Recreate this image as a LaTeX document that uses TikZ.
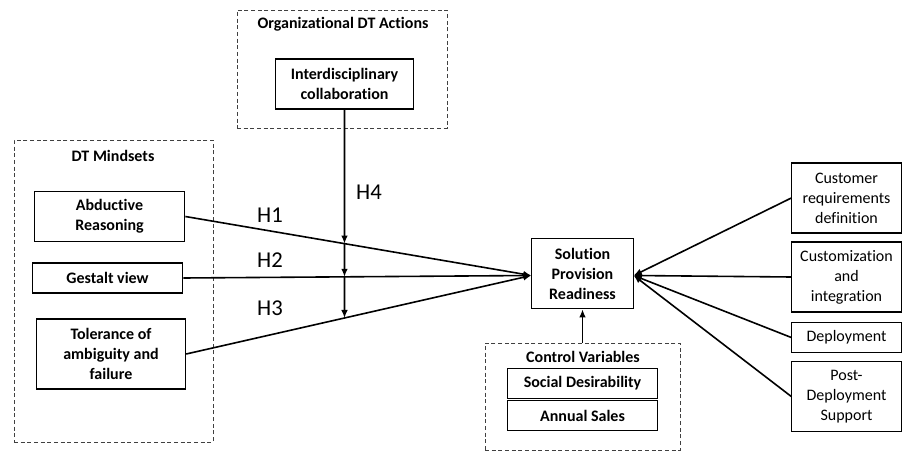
\documentclass[tikz,border=0pt]{standalone}
\usepackage{fontspec}
\setmainfont{Carlito}[Ligatures=NoCommon]
\usetikzlibrary{arrows.meta}
\usetikzlibrary{fit}

\begin{document}
\begin{tikzpicture}[%
		x=0.75pt, y=-0.75pt,
		>={Latex[length=6pt,width=5pt]},
		bx/.style={draw, rectangle, line width=0.8pt, align=center, inner sep=1pt,
			font=\fontsize{12}{15}\selectfont\bfseries},
		rbx/.style={bx, font=\fontsize{12}{15}\selectfont},
		grp/.style={draw=black!75, line width=0.7pt, dash pattern=on 3pt off 2pt, inner sep=0pt},
		ttl/.style={font=\fontsize{12}{15}\selectfont\bfseries},
		hyp/.style={font=\fontsize{17}{20}\selectfont},
		con/.style={line width=1.2pt, ->}
		]
		\useasboundingbox (0,0) rectangle (903,452);
		%%%%%%%%%%%%%%%
		%    GROUPS   %
		%%%%%%%%%%%%%%%
		\node[grp, fit={(14,140) (213,442)}] (mind) {};
		\node[ttl] (mindt) at (113,156) {DT Mindsets};
		
		\node[grp, fit={(237,10) (447,128)}] (org) {};
		\node[ttl] (orgt) at (343,24) {Organizational DT Actions};
		
		\node[grp, fit={(485,343) (680,450)}] (ctrl) {};
		\node[ttl] (ctrlt) at (583,357) {Control Variables};
		
		%%%%%%%%%%%%%%%
		%    NODES    %
		%%%%%%%%%%%%%%%
		% DT mindsets
		\node[bx, minimum width=113pt, minimum height=38pt] (abd) at (109.5,216.5) {Abductive\\Reasoning};
		\node[bx, minimum width=113pt, minimum height=22.5pt] (gest) at (107.5,278) {Gestalt view};
		\node[bx, minimum width=112pt, minimum height=52.5pt] (tol) at (111,354) {Tolerance of\\ambiguity and\\failure};
		
		% Actions
		\node[bx, minimum width=103pt, minimum height=37.5pt] (idc) at (344.5,84) {Interdisciplinary\\collaboration};
		
		% Outcome
		\node[bx, minimum width=76pt, minimum height=53pt] (spr) at (582.5,273.5) {Solution\\Provision\\Readiness};
		
		% Controls
		\node[bx, minimum width=113pt, minimum height=23pt] (soc) at (582.5,383.5) {Social Desirability};
		\node[bx, minimum width=113pt, minimum height=22pt] (ann) at (582.5,415.5) {Annual Sales};
		
		% Dimensions
		\node[rbx, minimum width=82pt, minimum height=52.5pt] (cust) at (846.5,198) {Customer\\requirements\\definition};
		\node[rbx, minimum width=82pt, minimum height=52.5pt] (integ) at (846.5,277) {Customization\\and\\integration};
		\node[rbx, minimum width=82pt, minimum height=22pt] (depl) at (846.5,337.5) {Deployment};
		\node[rbx, minimum width=82pt, minimum height=53pt] (post) at (846.5,396.5) {Post-\\Deployment\\Support};
		
		%%%%%%%%%%%%%%%
		% CONNECTIONS %
		%%%%%%%%%%%%%%%
		\coordinate (spin) at ([yshift=-1.5pt]spr.west);
		\coordinate (spout) at ([yshift=-1.5pt]spr.east);
		\path (idc.south) ++(0,260) coordinate (vbot);
		
		\draw[con] (abd.east) -- (spin);
		\draw[con] (gest.east) -- (spin);
		\draw[con] (tol.east) -- (spin);
		
		\node[hyp] (h1) at (270,215) {H1};
		\node[hyp] (h2) at (270,260) {H2};
		\node[hyp] (h3) at (270,308) {H3};
		
		% moderation
		\coordinate (m1) at (intersection of abd.east--spin and idc.south--vbot);
		\coordinate (m2) at (intersection of gest.east--spin and idc.south--vbot);
		\coordinate (m3) at (intersection of tol.east--spin and idc.south--vbot);
		\draw[con] (idc.south) -- (m1);
		\draw[con] (m1) -- (m2);
		\draw[con] (m2) -- (m3);
		\node[hyp] (h4) at (369,192) {H4};
		
		% controls
		\draw[con] (ctrl.north -| spr.south) -- (spr.south);
		
		% dimensions
		\draw[con] (cust.west) -- (spout);
		\draw[con] (integ.west) -- (spout);
		\draw[con] (depl.west) -- (spout);
		\draw[con] (post.west) -- (spout);
		
	\end{tikzpicture}
\end{document}
